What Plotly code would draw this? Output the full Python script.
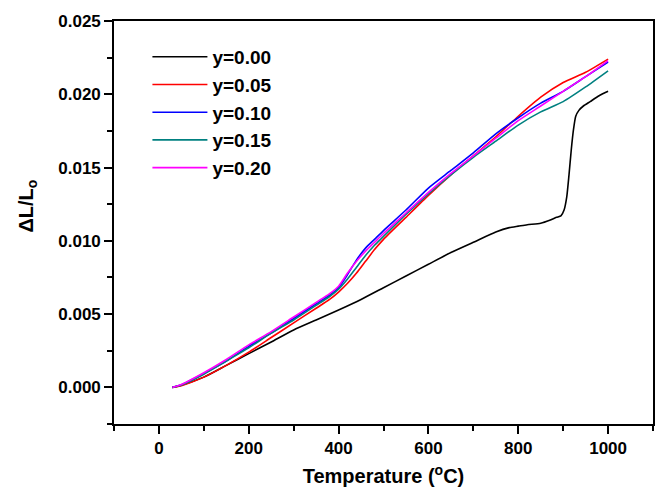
import plotly.graph_objects as go

temp = [30, 50, 100, 150, 200, 250, 300, 350, 380, 400, 420, 440, 460, 480, 500,
        550, 600, 650, 700, 750, 800, 850, 900, 950, 1000]

temp_y000 = [30, 50, 100, 150, 200, 250, 300, 350, 400, 450, 500, 550, 600, 650, 700,
             750, 780, 800, 820, 850, 870, 885, 895, 902, 908, 913, 918, 923, 928,
             935, 945, 960, 980, 1000]
dl_y000 = [0.0, 0.00015, 0.0007, 0.0015, 0.0023, 0.0031, 0.00392, 0.0046, 0.00528,
           0.0060, 0.0068, 0.0076, 0.0084, 0.0092, 0.0099, 0.0106, 0.0109, 0.0110,
           0.0111, 0.0112, 0.0114, 0.0116, 0.0117, 0.0121, 0.0130, 0.0145, 0.0162,
           0.0176, 0.0185, 0.0189, 0.0192, 0.0195, 0.0199, 0.0202]

dl_y005 = [0.0, 0.00012, 0.0007, 0.0015, 0.0024, 0.0034, 0.0044, 0.0054, 0.0060,
           0.0065, 0.0071, 0.0078, 0.0086, 0.0094, 0.0101, 0.0116, 0.0131, 0.0145,
           0.0158, 0.0171, 0.0185, 0.0198, 0.0208, 0.0215, 0.0224]
dl_y010 = [0.0, 0.00018, 0.00095, 0.0018, 0.0028, 0.0037, 0.0047, 0.0057, 0.0063,
           0.0068, 0.0077, 0.0087, 0.0095, 0.0101, 0.0107, 0.0121, 0.0136, 0.0148,
           0.0160, 0.0173, 0.0184, 0.0194, 0.0202, 0.0212, 0.0222]
dl_y015 = [0.0, 0.00016, 0.0009, 0.0018, 0.0027, 0.0037, 0.0046, 0.0056, 0.0062,
           0.0067, 0.0074, 0.0082, 0.0090, 0.0097, 0.0103, 0.0118, 0.0132, 0.0145,
           0.0157, 0.0168, 0.0179, 0.0188, 0.0195, 0.0205, 0.0216]
dl_y020 = [0.0, 0.0002, 0.0010, 0.0019, 0.0029, 0.0038, 0.0048, 0.0058, 0.0064,
           0.0069, 0.0078, 0.0086, 0.0093, 0.0099, 0.0105, 0.0119, 0.0133, 0.0146,
           0.0158, 0.0170, 0.0182, 0.0192, 0.0202, 0.0212, 0.0223]

series = [
    ("y=0.00", temp_y000, dl_y000, "#000000"),
    ("y=0.05", temp, dl_y005, "#FF0000"),
    ("y=0.10", temp, dl_y010, "#0000FF"),
    ("y=0.15", temp, dl_y015, "#008080"),
    ("y=0.20", temp, dl_y020, "#FF00FF"),
]

FONT = "Liberation Sans"

fig = go.Figure()
for i, (name, xs, ys, color) in enumerate(series):
    fig.add_trace(go.Scatter(
        x=xs, y=ys, mode="lines", name=name, legendgroup=name,
        line=dict(color=color, width=1.6, shape="spline", smoothing=0.6),
    ))

axis_common = dict(
    showline=True, linecolor="black", linewidth=1.6, mirror=True,
    showgrid=False, zeroline=False,
    ticks="outside", ticklen=8, tickwidth=1.5, tickcolor="black",
    tickfont=dict(family=FONT, size=17, color="black", weight="bold"),
)

fig.update_xaxes(
    range=[-100, 1100], dtick=200, tick0=0,
    minor=dict(dtick=100, ticks="outside", ticklen=5, tickwidth=1.5,
               tickcolor="black", showgrid=False),
    title=dict(text="Temperature (<sup>o</sup>C)", standoff=12,
               font=dict(family=FONT, size=20, color="black", weight="bold")),
    **axis_common,
)
fig.update_yaxes(
    range=[-0.0025, 0.025], dtick=0.005, tick0=0, tickformat=".3f",
    minor=dict(dtick=0.0025, ticks="outside", ticklen=5, tickwidth=1.5,
               tickcolor="black", showgrid=False),
    **axis_common,
)

fig.add_annotation(
    text="ΔL/L<sub>o</sub>", textangle=-90,
    xref="paper", yref="paper", x=-0.161, y=0.54,
    xanchor="center", yanchor="middle", showarrow=False,
    font=dict(family=FONT, size=20, color="black", weight="bold"),
)

fig.update_layout(
    width=660, height=490,
    margin=dict(l=114, r=5, t=21, b=66),
    paper_bgcolor="white", plot_bgcolor="white",
    showlegend=True,
    legend=dict(
        x=0.062, y=0.958, xanchor="left", yanchor="top",
        bgcolor="rgba(0,0,0,0)", borderwidth=0,
        font=dict(family=FONT, size=19, color="black", weight="bold"),
        itemwidth=55, tracegroupgap=0,
    ),
)

fig.write_html(
    "out.html",
    config={"displayModeBar": False},
    post_script="document.body.style.margin='0';document.body.style.overflow='hidden';",
)
